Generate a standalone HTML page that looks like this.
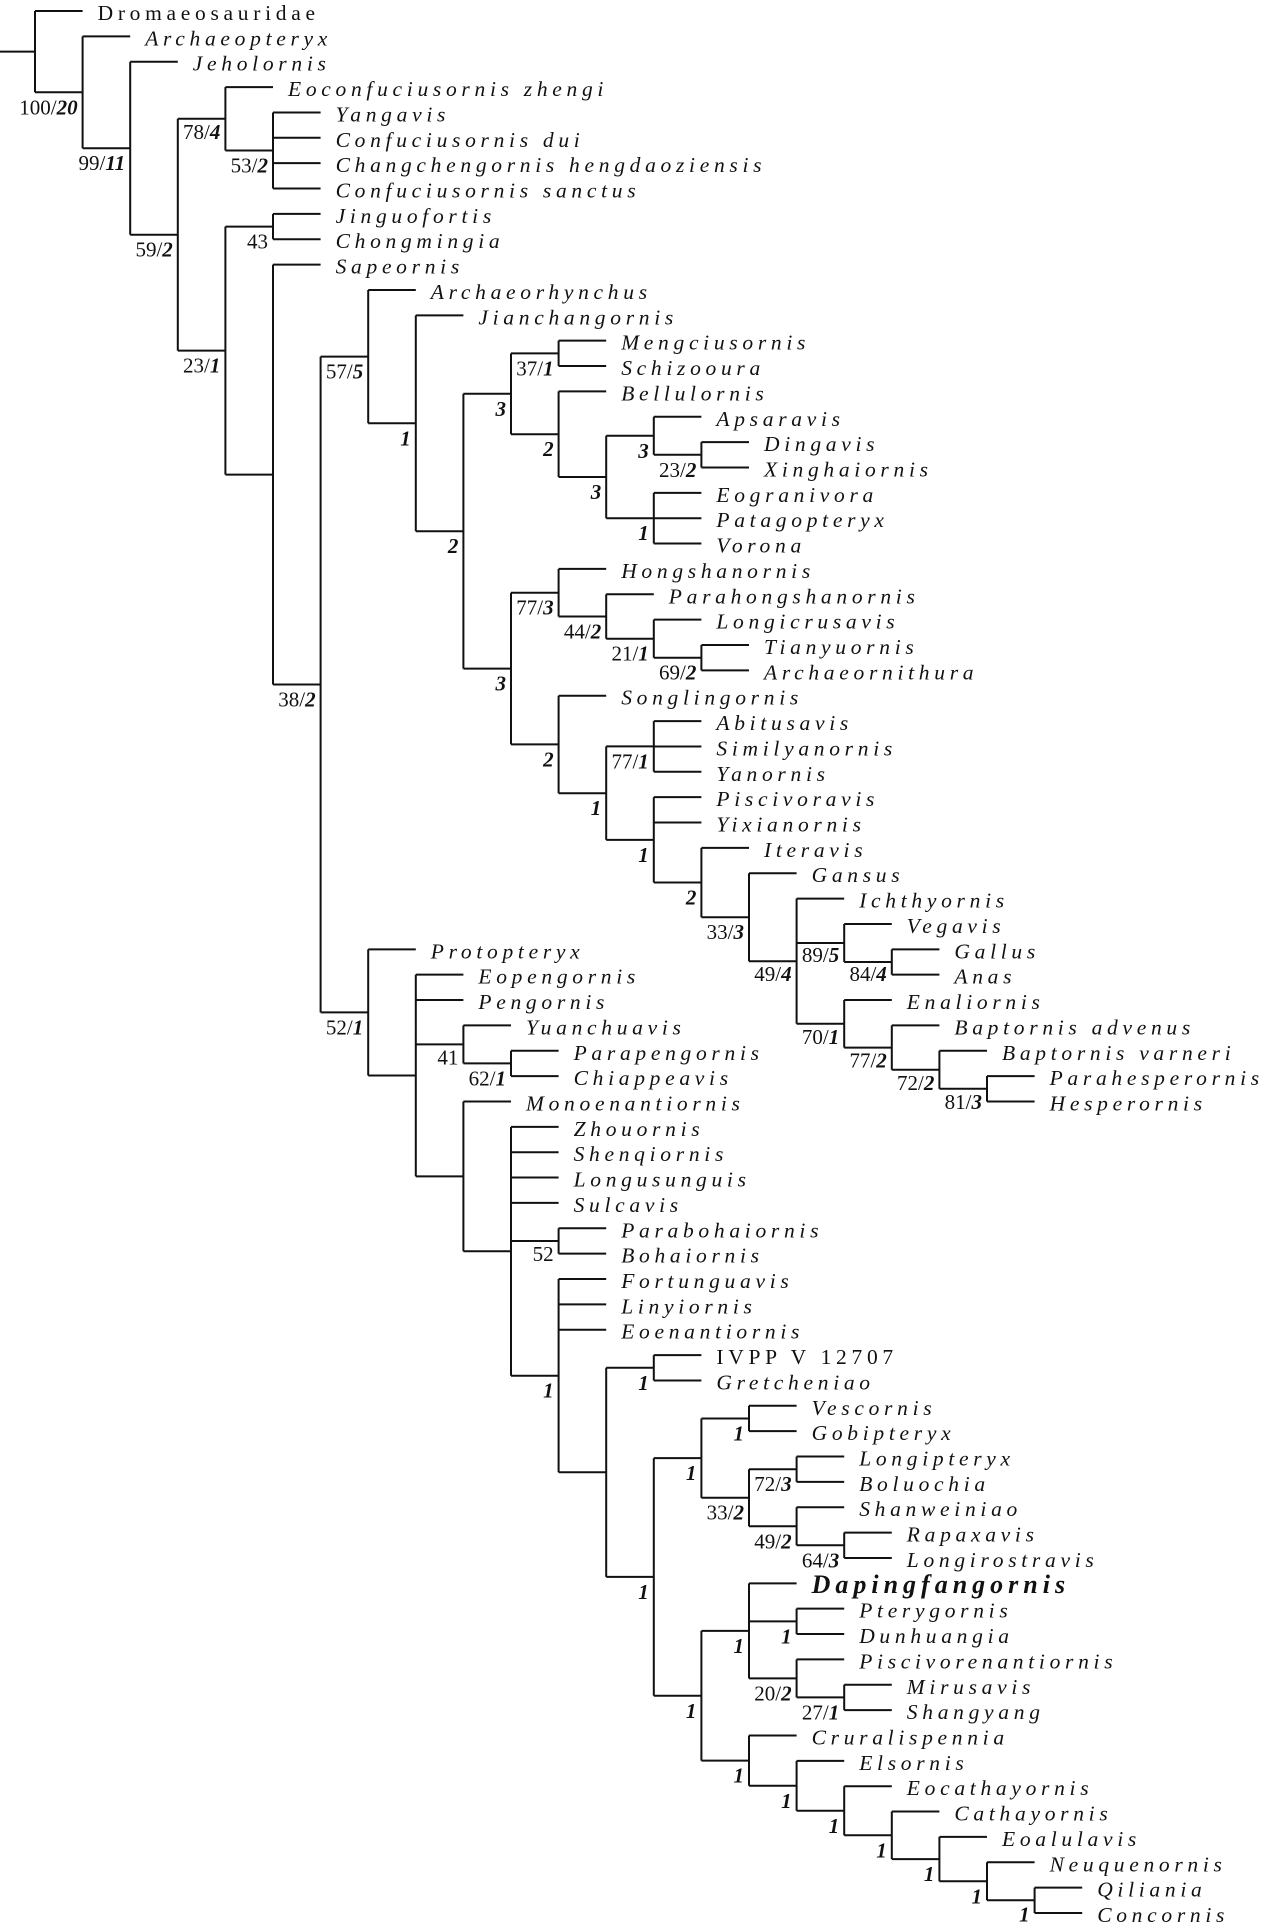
<!DOCTYPE html>
<html><head><meta charset="utf-8"><style>
html,body{margin:0;padding:0;background:#fff;}
svg{display:block;}
.t{font-family:"Liberation Serif",serif;font-size:21.5px;font-style:italic;letter-spacing:4.7px;fill:#111;}
.r{font-style:normal;}
.b{font-weight:bold;font-size:26px;letter-spacing:5px;}
.l{font-family:"Liberation Serif",serif;font-size:21px;fill:#111;text-anchor:end;}
.l tspan.i,.l.i{font-style:italic;font-weight:bold;}
</style></head><body>
<svg width="1267" height="1926" viewBox="0 0 1267 1926" xmlns="http://www.w3.org/2000/svg">
<g fill="none" stroke="#111" stroke-width="2">
<path d="M0 51.64H35 M35 11V92.28 M35 11H82.6 M35 92.28H82.6
M82.6 36.36V148.2 M82.6 36.36H130.2 M82.6 148.2H130.2
M130.2 61.72V234.7 M130.2 61.72H177.8 M130.2 234.7H177.8
M177.8 118.8V350.6 M177.8 118.8H225.4 M177.8 350.6H225.4
M225.4 87.08V150.5 M225.4 87.08H273 M225.4 150.5H273
M273 112.44V188.52 M273 112.44H320.6 M273 137.8H320.6 M273 163.16H320.6 M273 188.52H320.6
M225.4 226.6V474.6 M225.4 226.6H273 M225.4 474.6H273
M273 213.88V239.24 M273 213.88H320.6 M273 239.24H320.6
M273 264.6V684.5 M273 264.6H320.6 M273 684.5H320.6
M320.6 356.6V1012.4 M320.6 356.6H368.2 M320.6 1012.4H368.2
M368.2 289.96V423.3 M368.2 289.96H415.8 M368.2 423.3H415.8
M415.8 315.32V531.2 M415.8 315.32H463.4 M415.8 531.2H463.4
M463.4 393.8V668.6 M463.4 393.8H511 M463.4 668.6H511
M511 353.4V434.2 M511 353.4H558.6 M511 434.2H558.6
M558.6 340.68V366.04 M558.6 340.68H606.2 M558.6 366.04H606.2
M558.6 391.4V477 M558.6 391.4H606.2 M558.6 477H606.2
M606.2 435.8V518.2 M606.2 435.8H653.8 M606.2 518.2H653.8
M653.8 416.76V454.8 M653.8 416.76H701.4 M653.8 454.8H701.4
M701.4 442.12V467.48 M701.4 442.12H749 M701.4 467.48H749
M653.8 492.84V543.56 M653.8 492.84H701.4 M653.8 518.2H701.4 M653.8 543.56H701.4
M511 592.7V744.4 M511 592.7H558.6 M511 744.4H558.6
M558.6 568.92V616.5 M558.6 568.92H606.2 M558.6 616.5H606.2
M606.2 594.28V638.7 M606.2 594.28H653.8 M606.2 638.7H653.8
M653.8 619.64V657.7 M653.8 619.64H701.4 M653.8 657.7H701.4
M701.4 645V670.36 M701.4 645H749 M701.4 670.36H749
M558.6 695.72V793.2 M558.6 695.72H606.2 M558.6 793.2H606.2
M606.2 746.4V839.9 M606.2 746.4H653.8 M606.2 839.9H653.8
M653.8 721.08V771.8 M653.8 721.08H701.4 M653.8 746.44H701.4 M653.8 771.8H701.4
M653.8 797.16V882.5 M653.8 797.16H701.4 M653.8 822.52H701.4 M653.8 882.5H701.4
M701.4 847.88V917.2 M701.4 847.88H749 M701.4 917.2H749
M749 873.24V961.2 M749 873.24H796.6 M749 961.2H796.6
M796.6 898.6V1023.8 M796.6 898.6H844.2 M796.6 943H844.2 M796.6 1023.8H844.2
M844.2 923.96V962 M844.2 923.96H891.8 M844.2 962H891.8
M891.8 949.32V974.68 M891.8 949.32H939.4 M891.8 974.68H939.4
M844.2 1000.04V1047.6 M844.2 1000.04H891.8 M844.2 1047.6H891.8
M891.8 1025.4V1069.8 M891.8 1025.4H939.4 M891.8 1069.8H939.4
M939.4 1050.76V1088.8 M939.4 1050.76H987 M939.4 1088.8H987
M987 1076.12V1101.48 M987 1076.12H1034.6 M987 1101.48H1034.6
M368.2 949.32V1075.5 M368.2 949.32H415.8 M368.2 1075.5H415.8
M415.8 974.68V1176.4 M415.8 974.68H463.4 M415.8 1000.04H463.4 M415.8 1044.4H463.4 M415.8 1176.4H463.4
M463.4 1025.4V1063.4 M463.4 1025.4H511 M463.4 1063.4H511
M511 1050.76V1076.12 M511 1050.76H558.6 M511 1076.12H558.6
M463.4 1101.48V1251.3 M463.4 1101.48H511 M463.4 1251.3H511
M511 1126.84V1375.7 M511 1126.84H558.6 M511 1152.2H558.6 M511 1177.56H558.6 M511 1202.92H558.6 M511 1241H558.6 M511 1375.7H558.6
M558.6 1228.28V1253.64 M558.6 1228.28H606.2 M558.6 1253.64H606.2
M558.6 1279V1472.3 M558.6 1279H606.2 M558.6 1304.36H606.2 M558.6 1329.72H606.2 M558.6 1472.3H606.2
M606.2 1367.8V1576.9 M606.2 1367.8H653.8 M606.2 1576.9H653.8
M653.8 1355.08V1380.44 M653.8 1355.08H701.4 M653.8 1380.44H701.4
M653.8 1458.1V1695.8 M653.8 1458.1H701.4 M653.8 1695.8H701.4
M701.4 1418.5V1497.7 M701.4 1418.5H749 M701.4 1497.7H749
M749 1405.8V1431.16 M749 1405.8H796.6 M749 1431.16H796.6
M749 1469.2V1526.3 M749 1469.2H796.6 M749 1526.3H796.6
M796.6 1456.52V1481.88 M796.6 1456.52H844.2 M796.6 1481.88H844.2
M796.6 1507.24V1545.3 M796.6 1507.24H844.2 M796.6 1545.3H844.2
M844.2 1532.6V1557.96 M844.2 1532.6H891.8 M844.2 1557.96H891.8
M701.4 1630.9V1760.6 M701.4 1630.9H749 M701.4 1760.6H749
M749 1583.32V1678.4 M749 1583.32H796.6 M749 1621.4H796.6 M749 1678.4H796.6
M796.6 1608.68V1634.04 M796.6 1608.68H844.2 M796.6 1634.04H844.2
M796.6 1659.4V1697.4 M796.6 1659.4H844.2 M796.6 1697.4H844.2
M844.2 1684.76V1710.12 M844.2 1684.76H891.8 M844.2 1710.12H891.8
M749 1735.48V1785.8 M749 1735.48H796.6 M749 1785.8H796.6
M796.6 1760.84V1810.8 M796.6 1760.84H844.2 M796.6 1810.8H844.2
M844.2 1786.2V1835.3 M844.2 1786.2H891.8 M844.2 1835.3H891.8
M891.8 1811.56V1859.1 M891.8 1811.56H939.4 M891.8 1859.1H939.4
M939.4 1836.92V1881.3 M939.4 1836.92H987 M939.4 1881.3H987
M987 1862.28V1900.3 M987 1862.28H1034.6 M987 1900.3H1034.6
M1034.6 1887.64V1913 M1034.6 1887.64H1082.2 M1034.6 1913H1082.2"/>
</g>
<g class="t">
<text x="97.6" y="20" class="r">Dromaeosauridae</text>
<text x="145.2" y="45.36">Archaeopteryx</text>
<text x="192.8" y="70.72">Jeholornis</text>
<text x="288" y="96.08">Eoconfuciusornis zhengi</text>
<text x="335.6" y="121.44">Yangavis</text>
<text x="335.6" y="146.8">Confuciusornis dui</text>
<text x="335.6" y="172.16">Changchengornis hengdaoziensis</text>
<text x="335.6" y="197.52">Confuciusornis sanctus</text>
<text x="335.6" y="222.88">Jinguofortis</text>
<text x="335.6" y="248.24">Chongmingia</text>
<text x="335.6" y="273.6">Sapeornis</text>
<text x="430.8" y="298.96">Archaeorhynchus</text>
<text x="478.4" y="324.32">Jianchangornis</text>
<text x="621.2" y="349.68">Mengciusornis</text>
<text x="621.2" y="375.04">Schizooura</text>
<text x="621.2" y="400.4">Bellulornis</text>
<text x="716.4" y="425.76">Apsaravis</text>
<text x="764" y="451.12">Dingavis</text>
<text x="764" y="476.48">Xinghaiornis</text>
<text x="716.4" y="501.84">Eogranivora</text>
<text x="716.4" y="527.2">Patagopteryx</text>
<text x="716.4" y="552.56">Vorona</text>
<text x="621.2" y="577.92">Hongshanornis</text>
<text x="668.8" y="603.28">Parahongshanornis</text>
<text x="716.4" y="628.64">Longicrusavis</text>
<text x="764" y="654">Tianyuornis</text>
<text x="764" y="679.36">Archaeornithura</text>
<text x="621.2" y="704.72">Songlingornis</text>
<text x="716.4" y="730.08">Abitusavis</text>
<text x="716.4" y="755.44">Similyanornis</text>
<text x="716.4" y="780.8">Yanornis</text>
<text x="716.4" y="806.16">Piscivoravis</text>
<text x="716.4" y="831.52">Yixianornis</text>
<text x="764" y="856.88">Iteravis</text>
<text x="811.6" y="882.24">Gansus</text>
<text x="859.2" y="907.6">Ichthyornis</text>
<text x="906.8" y="932.96">Vegavis</text>
<text x="954.4" y="958.32">Gallus</text>
<text x="954.4" y="983.68">Anas</text>
<text x="906.8" y="1009.04">Enaliornis</text>
<text x="954.4" y="1034.4">Baptornis advenus</text>
<text x="1002" y="1059.76">Baptornis varneri</text>
<text x="1049.6" y="1085.12">Parahesperornis</text>
<text x="1049.6" y="1110.48">Hesperornis</text>
<text x="430.8" y="958.32">Protopteryx</text>
<text x="478.4" y="983.68">Eopengornis</text>
<text x="478.4" y="1009.04">Pengornis</text>
<text x="526" y="1034.4">Yuanchuavis</text>
<text x="573.6" y="1059.76">Parapengornis</text>
<text x="573.6" y="1085.12">Chiappeavis</text>
<text x="526" y="1110.48">Monoenantiornis</text>
<text x="573.6" y="1135.84">Zhouornis</text>
<text x="573.6" y="1161.2">Shenqiornis</text>
<text x="573.6" y="1186.56">Longusunguis</text>
<text x="573.6" y="1211.92">Sulcavis</text>
<text x="621.2" y="1237.28">Parabohaiornis</text>
<text x="621.2" y="1262.64">Bohaiornis</text>
<text x="621.2" y="1288">Fortunguavis</text>
<text x="621.2" y="1313.36">Linyiornis</text>
<text x="621.2" y="1338.72">Eoenantiornis</text>
<text x="716.4" y="1364.08" class="r">IVPP V 12707</text>
<text x="716.4" y="1389.44">Gretcheniao</text>
<text x="811.6" y="1414.8">Vescornis</text>
<text x="811.6" y="1440.16">Gobipteryx</text>
<text x="859.2" y="1465.52">Longipteryx</text>
<text x="859.2" y="1490.88">Boluochia</text>
<text x="859.2" y="1516.24">Shanweiniao</text>
<text x="906.8" y="1541.6">Rapaxavis</text>
<text x="906.8" y="1566.96">Longirostravis</text>
<text x="811.6" y="1593" class="b">Dapingfangornis</text>
<text x="859.2" y="1617.68">Pterygornis</text>
<text x="859.2" y="1643.04">Dunhuangia</text>
<text x="859.2" y="1668.4">Piscivorenantiornis</text>
<text x="906.8" y="1693.76">Mirusavis</text>
<text x="906.8" y="1719.12">Shangyang</text>
<text x="811.6" y="1744.48">Cruralispennia</text>
<text x="859.2" y="1769.84">Elsornis</text>
<text x="906.8" y="1795.2">Eocathayornis</text>
<text x="954.4" y="1820.56">Cathayornis</text>
<text x="1002" y="1845.92">Eoalulavis</text>
<text x="1049.6" y="1871.28">Neuquenornis</text>
<text x="1097.2" y="1896.64">Qiliania</text>
<text x="1097.2" y="1922">Concornis</text>
</g>
<g>
<text class="l" x="77.6" y="114.3">100/<tspan class="i">20</tspan></text>
<text class="l" x="125.2" y="170.2">99/<tspan class="i">11</tspan></text>
<text class="l" x="172.8" y="256.7">59/<tspan class="i">2</tspan></text>
<text class="l" x="220.4" y="138.8">78/<tspan class="i">4</tspan></text>
<text class="l" x="268" y="172.5">53/<tspan class="i">2</tspan></text>
<text class="l" x="220.4" y="372.6">23/<tspan class="i">1</tspan></text>
<text class="l" x="268" y="248.6">43</text>
<text class="l" x="315.6" y="706.5">38/<tspan class="i">2</tspan></text>
<text class="l" x="363.2" y="378.6">57/<tspan class="i">5</tspan></text>
<text class="l i" x="410.8" y="445.3">1</text>
<text class="l i" x="458.4" y="553.2">2</text>
<text class="l i" x="506" y="415.8">3</text>
<text class="l" x="553.6" y="375.4">37/<tspan class="i">1</tspan></text>
<text class="l i" x="553.6" y="456.2">2</text>
<text class="l i" x="601.2" y="499">3</text>
<text class="l i" x="648.8" y="457.8">3</text>
<text class="l" x="696.4" y="476.8">23/<tspan class="i">2</tspan></text>
<text class="l i" x="648.8" y="540.2">1</text>
<text class="l i" x="506" y="690.6">3</text>
<text class="l" x="553.6" y="614.7">77/<tspan class="i">3</tspan></text>
<text class="l" x="601.2" y="638.5">44/<tspan class="i">2</tspan></text>
<text class="l" x="648.8" y="660.7">21/<tspan class="i">1</tspan></text>
<text class="l" x="696.4" y="679.7">69/<tspan class="i">2</tspan></text>
<text class="l i" x="553.6" y="766.4">2</text>
<text class="l i" x="601.2" y="815.2">1</text>
<text class="l" x="648.8" y="768.4">77/<tspan class="i">1</tspan></text>
<text class="l i" x="648.8" y="861.9">1</text>
<text class="l i" x="696.4" y="904.5">2</text>
<text class="l" x="744" y="939.2">33/<tspan class="i">3</tspan></text>
<text class="l" x="791.6" y="981.2">49/<tspan class="i">4</tspan></text>
<text class="l" x="839.2" y="962">89/<tspan class="i">5</tspan></text>
<text class="l" x="886.8" y="981">84/<tspan class="i">4</tspan></text>
<text class="l" x="839.2" y="1043.8">70/<tspan class="i">1</tspan></text>
<text class="l" x="886.8" y="1067.6">77/<tspan class="i">2</tspan></text>
<text class="l" x="934.4" y="1089.8">72/<tspan class="i">2</tspan></text>
<text class="l" x="982" y="1108.8">81/<tspan class="i">3</tspan></text>
<text class="l" x="363.2" y="1034.4">52/<tspan class="i">1</tspan></text>
<text class="l" x="458.4" y="1064.4">41</text>
<text class="l" x="506" y="1085.4">62/<tspan class="i">1</tspan></text>
<text class="l" x="553.6" y="1261">52</text>
<text class="l i" x="553.6" y="1397.7">1</text>
<text class="l i" x="648.8" y="1389.8">1</text>
<text class="l i" x="648.8" y="1598.9">1</text>
<text class="l i" x="696.4" y="1480.1">1</text>
<text class="l i" x="744" y="1440.5">1</text>
<text class="l" x="744" y="1519.7">33/<tspan class="i">2</tspan></text>
<text class="l" x="791.6" y="1491.2">72/<tspan class="i">3</tspan></text>
<text class="l" x="791.6" y="1548.3">49/<tspan class="i">2</tspan></text>
<text class="l" x="839.2" y="1567.3">64/<tspan class="i">3</tspan></text>
<text class="l i" x="696.4" y="1717.8">1</text>
<text class="l i" x="744" y="1652.9">1</text>
<text class="l i" x="791.6" y="1643.4">1</text>
<text class="l" x="791.6" y="1700.4">20/<tspan class="i">2</tspan></text>
<text class="l" x="839.2" y="1719.4">27/<tspan class="i">1</tspan></text>
<text class="l i" x="744" y="1782.6">1</text>
<text class="l i" x="791.6" y="1807.8">1</text>
<text class="l i" x="839.2" y="1832.8">1</text>
<text class="l i" x="886.8" y="1857.3">1</text>
<text class="l i" x="934.4" y="1881.1">1</text>
<text class="l i" x="982" y="1903.3">1</text>
<text class="l i" x="1029.6" y="1921.5">1</text>
</g>
</svg>
</body></html>
